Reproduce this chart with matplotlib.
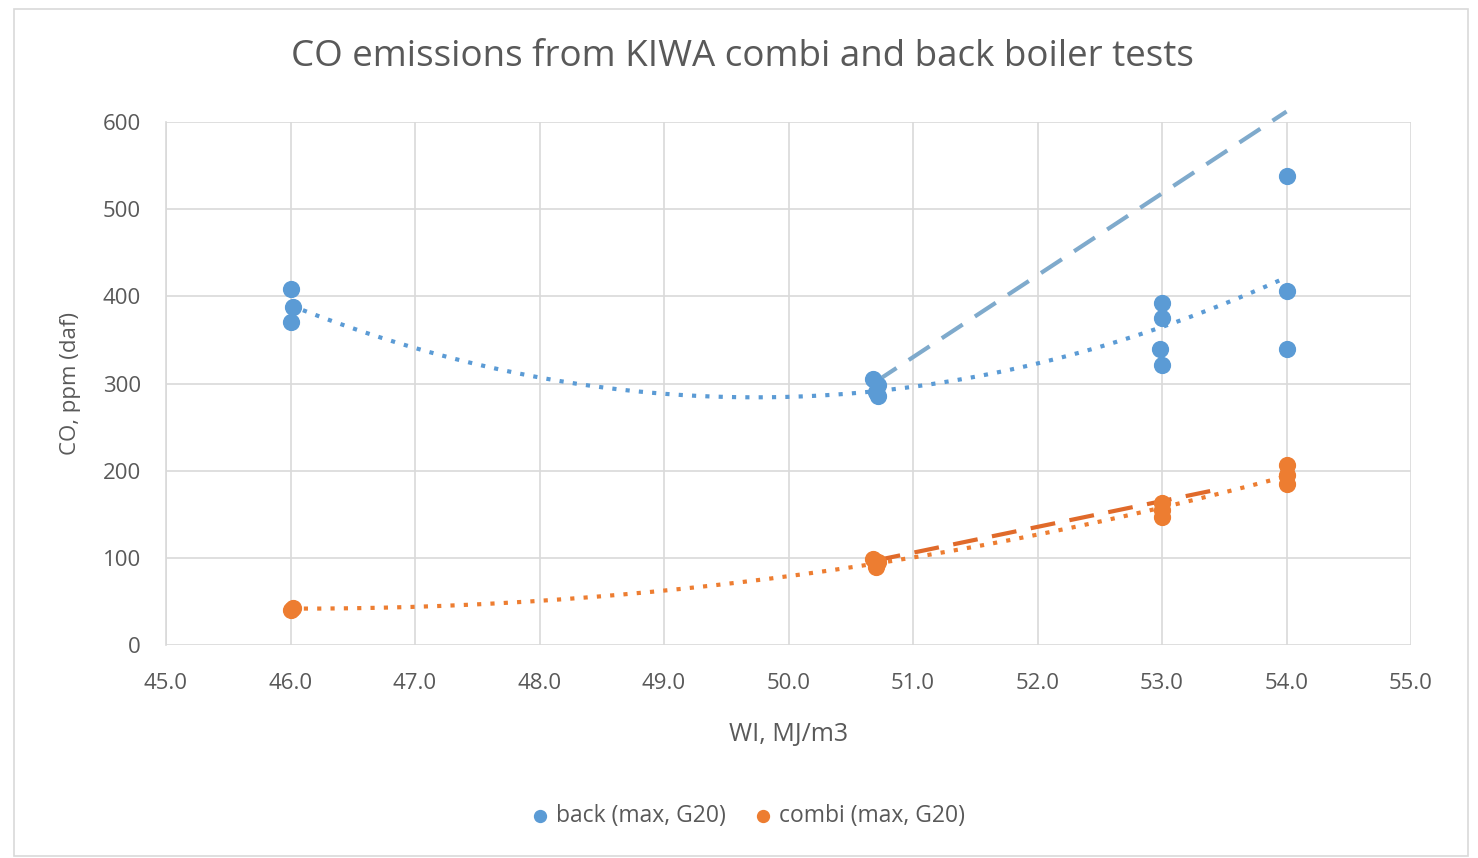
import numpy as np
import matplotlib
matplotlib.use("Agg")
import matplotlib.pyplot as plt
from matplotlib.patches import Rectangle

plt.rcParams['font.family'] = ['Open Sans', 'DejaVu Sans']

# ---- data ----
back_x = [46.0, 46.02, 46.0, 50.68, 50.72, 50.7, 50.72, 53.0, 53.0, 52.98, 53.0, 54.0, 54.0, 54.0]
back_y = [408, 388, 370, 305, 298, 290, 286, 392, 375, 340, 321, 538, 406, 340]
combi_x = [46.0, 46.02, 50.68, 50.72, 50.7, 53.0, 53.0, 53.0, 54.0, 54.0, 54.0]
combi_y = [40, 43, 99, 95, 90, 163, 155, 147, 206, 195, 185]
back_dash_x = [50.7, 54.0]
back_dash_y = [302, 612]
combi_dash_x = [50.7, 53.4]
combi_dash_y = [97, 177]
x_ticks = [45.0, 46.0, 47.0, 48.0, 49.0, 50.0, 51.0, 52.0, 53.0, 54.0, 55.0]
y_ticks = [0, 100, 200, 300, 400, 500, 600]

blue = '#5B9BD5'
orange = '#ED7D31'
txt = '#595959'

fig = plt.figure(figsize=(14.78, 8.58), dpi=100)
fig.patches.append(Rectangle((14/1478, 0.002), (1468-14)/1478, (853-6)/858,
                             transform=fig.transFigure, fill=False,
                             edgecolor='#D9D9D9', linewidth=1.2))
ax = fig.add_axes([166/1478, 1-645/858, (1411-166)/1478, (645-122)/858])

# trend lines (2nd order polynomial like Excel)
xs = np.linspace(46.0, 54.0, 200)
pb = np.polyfit(back_x, back_y, 2)
pc = np.polyfit(combi_x, combi_y, 2)
ax.plot(xs, np.polyval(pb, xs), linestyle=(0, (1, 2.2)), color=blue, lw=3, zorder=2)
ax.plot(xs, np.polyval(pc, xs), linestyle=(0, (1, 2.2)), color=orange, lw=3, zorder=2)

ax.plot(back_dash_x, back_dash_y, linestyle=(0, (6, 3.5)), color='#7FAACC', lw=3,
        clip_on=False, zorder=3)
ax.plot(combi_dash_x, combi_dash_y, linestyle=(0, (6, 3.5)), color='#E06A2A', lw=3,
        clip_on=False, zorder=3)

ax.scatter(back_x, back_y, s=130, color=blue, zorder=4, label='back (max, G20)')
ax.scatter(combi_x, combi_y, s=130, color=orange, zorder=4, label='combi (max, G20)')

ax.set_xlim(45, 55)
ax.set_ylim(0, 600)
ax.set_xticks(x_ticks)
ax.set_xticklabels([f'{v:.1f}' for v in x_ticks])
ax.set_yticks(y_ticks)
ax.grid(True, color='#D9D9D9', lw=1.2)
ax.set_axisbelow(True)
for s in ['top', 'right', 'bottom']:
    ax.spines[s].set_visible(False)
ax.spines['left'].set_color('#D9D9D9')
ax.spines['left'].set_linewidth(1.2)
ax.tick_params(length=0, labelsize=16, colors=txt)
ax.tick_params(axis='x', pad=20)
ax.tick_params(axis='y', pad=18)

ax.set_xlabel('WI, MJ/m3', fontsize=18, color=txt, labelpad=20)
ax.set_ylabel('CO, ppm (daf)', fontsize=16, color=txt, labelpad=16)
fig.text(742/1478, 1-57/858, 'CO emissions from KIWA combi and back boiler tests',
         ha='center', va='center', fontsize=26.5, color=txt)

fig.legend(handles=ax.collections, labels=['back (max, G20)', 'combi (max, G20)'],
           loc='center', bbox_to_anchor=(748/1478, 1-816/858), ncol=2, frameon=False,
           fontsize=16.5, labelcolor=txt, handlelength=0.8, handletextpad=0.3,
           columnspacing=1.2, markerscale=0.75)

fig.savefig('out.png', dpi=100)
